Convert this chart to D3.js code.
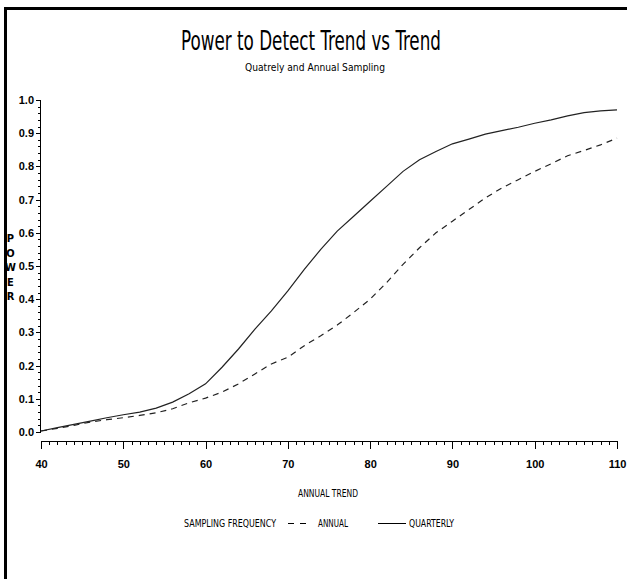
<!DOCTYPE html>
<html>
<head>
<meta charset="utf-8">
<script src="https://cdn.jsdelivr.net/npm/d3@7"></script>
<style>
	body { margin: 0; background: #fff; }
	svg { display: block; font-family: "Liberation Sans Narrow", "DejaVu Sans Condensed", sans-serif; }
	.axis path, .axis line { stroke: #000; stroke-width: 1; shape-rendering: crispEdges; }
	.axis text { font-size: 11px; font-weight: bold; fill: #000; }
</style>
</head>
<body>
<svg></svg>
<script>
var WIDTH = 627;
var HEIGHT = 579;

// annual trend values along the x axis
var trend = [40, 42, 44, 46, 48, 50, 52, 54, 56, 58, 60, 62, 64, 66, 68, 70, 72, 74,
	76, 78, 80, 82, 84, 86, 88, 90, 92, 94, 96, 98, 100, 102, 104, 106, 108, 110];

// power with quarterly sampling (solid line)
var quarterly = [0.003, 0.013, 0.023, 0.033, 0.043, 0.052, 0.060, 0.072, 0.090, 0.115,
	0.145, 0.195, 0.250, 0.310, 0.365, 0.425, 0.490, 0.550, 0.605, 0.650, 0.695, 0.740,
	0.785, 0.820, 0.845, 0.868, 0.882, 0.897, 0.908, 0.918, 0.930, 0.940, 0.952, 0.962,
	0.967, 0.970];

// power with annual sampling (dashed line)
var annual = [0.003, 0.011, 0.020, 0.030, 0.037, 0.043, 0.050, 0.058, 0.070, 0.088,
	0.102, 0.120, 0.145, 0.175, 0.205, 0.225, 0.260, 0.290, 0.322, 0.360, 0.400, 0.450,
	0.505, 0.555, 0.600, 0.635, 0.670, 0.705, 0.735, 0.760, 0.785, 0.808, 0.832, 0.848,
	0.865, 0.885];

var xTicks = [40, 50, 60, 70, 80, 90, 100, 110];
var yTicks = [0, 0.1, 0.2, 0.3, 0.4, 0.5, 0.6, 0.7, 0.8, 0.9, 1.0];

var svg = d3.select('svg')
	.attr('width', WIDTH)
	.attr('height', HEIGHT);

// page frame (only top and left edges fall inside the picture)
svg.append('rect')
	.attr('x', 5.5).attr('y', 8.5)
	.attr('width', 800).attr('height', 800)
	.attr('fill', 'none')
	.attr('stroke', '#000')
	.attr('stroke-width', 3);

var xScale = d3.scaleLinear().domain([40, 110]).range([41, 617]);
var yScale = d3.scaleLinear().domain([0, 1]).range([432, 100]);

// titles
svg.append('text')
	.attr('x', 181).attr('y', 50)
	.attr('textLength', 260).attr('lengthAdjust', 'spacingAndGlyphs')
	.style('font-size', '27px')
	.text('Power to Detect Trend vs Trend');
svg.append('text')
	.attr('x', 245).attr('y', 71)
	.attr('textLength', 140).attr('lengthAdjust', 'spacingAndGlyphs')
	.style('font-size', '11px')
	.text('Quatrely and Annual Sampling');

// y axis: minor then major ticks
svg.append('g')
	.attr('class', 'axis')
	.attr('transform', 'translate(40,0)')
	.call(d3.axisLeft(yScale).tickValues(d3.range(0, 1.001, 0.02)).tickSize(2).tickFormat(''));
svg.append('g')
	.attr('class', 'axis')
	.attr('transform', 'translate(40,0)')
	.call(d3.axisLeft(yScale).tickValues(yTicks).tickSize(4).tickPadding(2).tickFormat(d3.format('.1f')));

// vertical axis label, one letter per row
svg.append('g').selectAll('text')
	.data('POWER'.split(''))
	.enter()
	.append('text')
	.attr('x', 10.5)
	.attr('y', function(d, i){ return 242 + i * 14.5; })
	.attr('text-anchor', 'middle')
	.style('font-size', '11px')
	.style('font-weight', 'bold')
	.text(function(d){ return d; });

// x axis: minor then major ticks
svg.append('g')
	.attr('class', 'axis')
	.attr('transform', 'translate(0,441)')
	.call(d3.axisBottom(xScale).tickValues(d3.range(40, 111, 1)).tickSize(4).tickSizeOuter(0).tickFormat(''));
svg.append('g')
	.attr('class', 'axis')
	.attr('transform', 'translate(0,441)')
	.call(d3.axisBottom(xScale).tickValues(xTicks).tickSize(8).tickSizeOuter(0).tickPadding(11));

svg.append('text')
	.attr('x', 298).attr('y', 497)
	.attr('textLength', 60).attr('lengthAdjust', 'spacingAndGlyphs')
	.style('font-size', '11px')
	.text('ANNUAL TREND');

// curves
var line = function(values){
	return d3.line()
		.x(function(d, i){ return xScale(trend[i]); })
		.y(function(d){ return yScale(d); })(values);
};
svg.append('path')
	.attr('d', line(annual))
	.attr('fill', 'none')
	.attr('stroke', '#222')
	.attr('stroke-width', 1.2)
	.attr('stroke-dasharray', '6,5');
svg.append('path')
	.attr('d', line(quarterly))
	.attr('fill', 'none')
	.attr('stroke', '#222')
	.attr('stroke-width', 1.2);

// legend
var legend = svg.append('g').style('font-size', '11px');
legend.append('text')
	.attr('x', 184).attr('y', 527)
	.attr('textLength', 92).attr('lengthAdjust', 'spacingAndGlyphs')
	.text('SAMPLING FREQUENCY');
legend.append('line')
	.attr('x1', 288).attr('x2', 306).attr('y1', 523.5).attr('y2', 523.5)
	.attr('stroke', '#000').attr('stroke-dasharray', '6,6');
legend.append('text')
	.attr('x', 318).attr('y', 527)
	.attr('textLength', 30).attr('lengthAdjust', 'spacingAndGlyphs')
	.text('ANNUAL');
legend.append('line')
	.attr('x1', 378).attr('x2', 406).attr('y1', 523.5).attr('y2', 523.5)
	.attr('stroke', '#000');
legend.append('text')
	.attr('x', 409).attr('y', 527)
	.attr('textLength', 45).attr('lengthAdjust', 'spacingAndGlyphs')
	.text('QUARTERLY');
</script>
</body>
</html>
